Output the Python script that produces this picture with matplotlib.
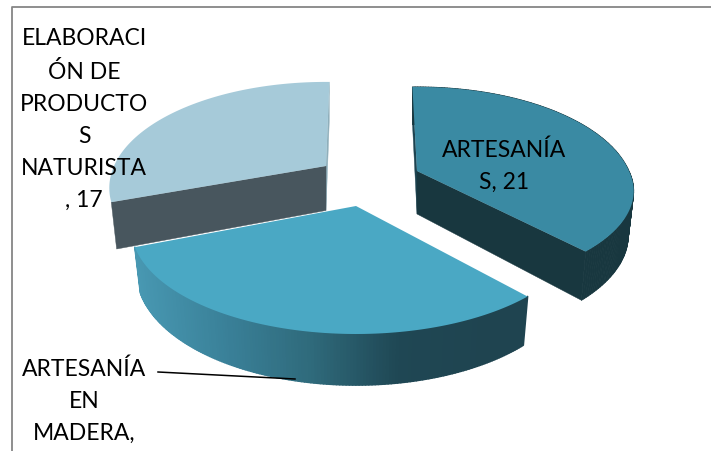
import numpy as np
import matplotlib
matplotlib.use("Agg")
import matplotlib.pyplot as plt
from matplotlib.patches import Polygon
from matplotlib.collections import PolyCollection
from matplotlib.colors import LinearSegmentedColormap

categories = ["ARTESANÍAS", "ARTESANÍA EN MADERA", "ELABORACIÓN DE PRODUCTOS NATURISTA"]
values = [21, 19, 17]
label_text = ["ARTESANÍA\nS, 21", "ARTESANÍA\nEN\nMADERA,", "ELABORACI\nÓN DE\nPRODUCTO\nS\nNATURISTA\n, 17"]

top_colors = ["#3A8AA3", "#4AA8C4", "#A6CAD9"]
wall_colors = ["#18373F", None, "#48565E"]
strip_colors = ["#1D4350", None, "#8FAFBB"]
apexes = [(417, 172), (356, 207), (326, 167)]
radii = [212, 220, 212]
edge_adjust = [(1.5, -5.0), (-6.2, 4.6), (2.0, -1.1)]
front_scale = [0.91, 1.0, 1.0]
heights = [43.0, 43.0, 44.5]
draw_order = [2, 0, 1]

K = 0.207
DEPTH = 101.5
SHRINK = 0.975

fig = plt.figure(figsize=(7.11, 4.52), dpi=100, facecolor="white")
ax = fig.add_axes([0, 0, 1, 1])
ax.set_xlim(0, 711)
ax.set_ylim(452, 0)
ax.axis("off")


def top_pt(theta, R, fs):
    u, v = np.cos(theta), np.sin(theta)
    w = 1 + K * v
    y = -DEPTH * v / w
    return R * u / w, np.where(v < 0, y * fs, y)


def bottom_pt(theta, R, fs, H):
    x, y = top_pt(theta, R, fs)
    w = 1 + K * np.sin(theta)
    return SHRINK * x, SHRINK * y + H / w


# slice angles follow the values, clockwise from twelve o'clock
total = sum(values)
edges = 90 - np.cumsum([0] + values) * 360.0 / total
gradient = LinearSegmentedColormap.from_list("w", ["#4898B2", "#3A8199", "#2F6A7B", "#1F4754", "#1F4450"])

for i in draw_order:
    cx, cy = apexes[i]
    R, fs, H = radii[i], front_scale[i], heights[i]
    a0 = np.radians(edges[i] + edge_adjust[i][0])
    a1 = np.radians(edges[i + 1] + edge_adjust[i][1])
    thetas = np.linspace(a0, a1, 160)
    tx, ty = top_pt(thetas, R, fs)
    bx, by = bottom_pt(thetas, R, fs, H)
    tx, ty, bx, by = tx + cx, ty + cy, bx + cx, by + cy
    apex_b = (cx, cy + H)

    quads = [[(tx[j], ty[j]), (tx[j + 1], ty[j + 1]), (bx[j + 1], by[j + 1]), (bx[j], by[j])]
             for j in range(len(thetas) - 1)]
    z = 1 + i * 0.1
    if i == 1:
        cols = [gradient(np.clip((0.5 * (bx[j] + bx[j + 1]) - 139) / 345.0, 0, 1))
                for j in range(len(thetas) - 1)]
        ax.add_collection(PolyCollection(quads, facecolors=cols, edgecolors=cols, linewidths=1.2, zorder=3))
    else:
        cut, strip = (-1, 0) if i == 0 else (0, -1)
        ax.add_patch(Polygon([(tx[strip], ty[strip]), (bx[strip], by[strip]), apex_b, (cx, cy)],
                             closed=True, fc=strip_colors[i], ec=strip_colors[i], lw=0.3, zorder=z))
        ax.add_patch(Polygon([(cx, cy), (tx[cut], ty[cut]), (bx[cut], by[cut]), apex_b],
                             closed=True, fc=wall_colors[i], ec=wall_colors[i], lw=0.3, zorder=z))
        if i == 0:
            ax.add_collection(PolyCollection(quads, facecolors=wall_colors[i], edgecolors=wall_colors[i],
                                             linewidths=0.6, zorder=z))
    ax.add_patch(Polygon(np.r_[[(cx, cy)], np.c_[tx, ty]], closed=True,
                         fc=top_colors[i], ec="none", zorder=4))

# frame (only left and top edges fall inside the picture)
ax.plot([12, 12, 711], [452, 8, 8], color="#868686", lw=1.3, solid_capstyle="butt", zorder=5)

font = dict(family="Lato", fontsize=16.5, color="black", ha="center", va="center", linespacing=1.65, zorder=6)
ax.text(504, 166, label_text[0], **font)
ax.text(84, 401, label_text[1], **font)
ax.text(84, 119.5, label_text[2], **font)

# leader line
ax.plot([158, 295], [373, 380], color="black", lw=1.1, zorder=6)

fig.savefig("out.png", dpi=100, facecolor="white")
